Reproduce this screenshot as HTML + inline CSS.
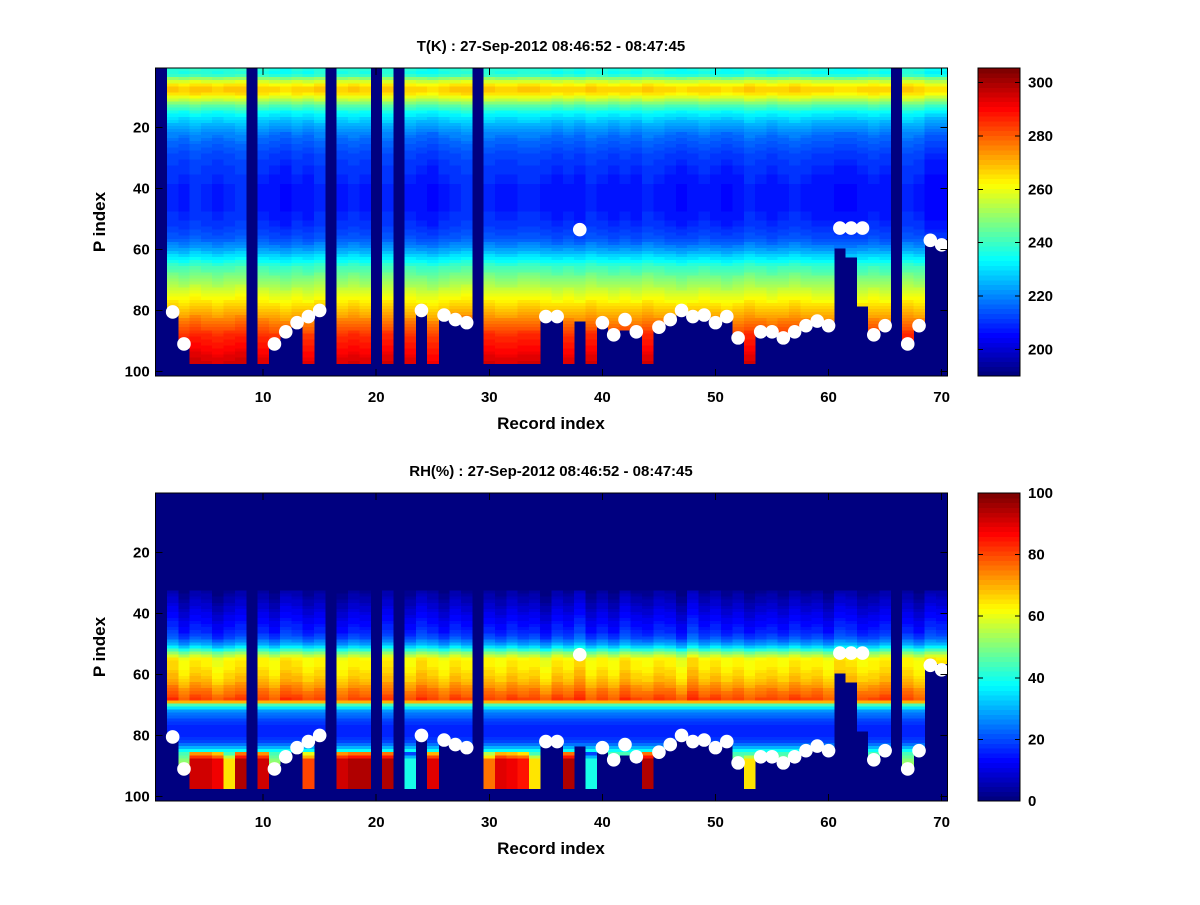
<!DOCTYPE html>
<html><head><meta charset="utf-8">
<style>
body{margin:0;background:#fff;}
svg text{font-family:"Liberation Sans",Arial,sans-serif;font-weight:bold;fill:#000;}
</style></head>
<body>
<svg id="fig" width="1200" height="900" viewBox="0 0 1200 900" xmlns="http://www.w3.org/2000/svg" shape-rendering="crispEdges">
<rect x="0" y="0" width="1200" height="900" fill="#fff"/>
<g id="top"></g>
<g id="bot"></g>
</svg>
<script>
// ---- data ----
const records = 70;
const rowsMax = 97;
// base temperature profile by P index (rows 1..97), K
const tProfile = [236,235,238,248,256,262,266,266,263,258,253,247,242,238,234,231,228,
226,224,222,220,218,217,216,215,214,213,212,211,211,210,210,209,209,209,
208,208,208,207,207,207,207,207,207,207,207,207,208,208,208,209,209,210,211,212,
213,215,217,219,222,225,228,231,234,237,240,242,244,246,248,250,252,254,256,258,
260,262,264,266,268,270,272,274,276,278,280,282,284,285,286,287,288,289,290,291,292,293];
// per-record temperature offsets
const tOff = [0,2,1,3,2,1,2,3,0,1,0,-1,1,0,2,0,1,2,1,0,2,0,1,0,-1,1,2,3,0,2,1,1,2,2,1,0,1,0,2,
1,0,1,0,2,1,0,-1,0,1,0,-1,0,2,1,0,1,2,1,0,0,-1,-1,0,1,0,0,2,1,-2,-2];
// base relative humidity profile (rows 1..97), %
const rhProfile = [0,0,0,0,0,0,0,0,0,0,0,0,0,0,0,0,0,0,0,0,0,0,0,0,0,0,0,0,0,0,0,0,
3,4,5,6,7,8,9,10,11,12,13,14,15,16,18,20,24,28,34,42,50,56,
62,63,63,64,65,66,67,68,70,72,74,76,78,80,70,45,35,
28,24,22,20,18,17,16,16,17,18,20,24,30,38,
44,48,50,52,52,52,52,52,52,52,52,52];
const rhOff = [0,3,-2,2,1,-3,0,2,0,1,-2,3,2,-1,1,0,-2,1,0,0,2,0,-1,3,1,-2,2,0,0,1,-1,2,0,1,-3,2,
0,4,-2,1,-2,3,0,-1,2,1,-3,4,0,2,-1,1,-2,0,1,-1,2,0,1,-2,3,2,-1,0,2,0,1,-2,3,2];
// bottom-layer humidity for records reaching the surface
const rhBot = {4:92,5:92,6:88,7:65,8:95,10:92,14:80,17:92,18:95,19:95,21:95,23:40,25:90,
30:75,31:90,32:88,33:85,34:65,37:95,39:40,44:95,53:65};
// last valid row per record (0 = missing record)
const endRow = [0,79,89,97,97,97,97,97,0,97,89,85,82,97,79,0,97,97,97,0,97,0,97,79,97,80,82,83,0,
97,97,97,97,97,81,81,97,83,97,85,87,86,86,97,85,82,80,82,81,84,82,88,97,87,87,89,87,85,83,85,
59,62,78,87,85,0,90,85,56,56];
// surface marker (P index) per record
const dots = [null,80.5,91,null,null,null,null,null,null,null,91,87,84,82,80,null,null,null,null,null,
null,null,null,80,null,81.5,83,84,null,null,null,null,null,null,82,82,null,53.5,null,84,88,83,87,null,
85.5,83,80,82,81.5,84,82,89,null,87,87,89,87,85,83.5,85,53,53,53,88,85,null,91,85,57,58.5];
const xTicks = [10,20,30,40,50,60,70];
const yTicks = [20,40,60,80,100];
const tCbTicks = [200,220,240,260,280,300];
const rhCbTicks = [0,20,40,60,80,100];

// ---- helpers ----
const NS="http://www.w3.org/2000/svg";
function jet(v,lo,hi){
  let idx=Math.floor((v-lo)/(hi-lo)*64); idx=Math.max(0,Math.min(63,idx));
  const t=idx/63, c=x=>Math.round(255*Math.max(0,Math.min(1,x)));
  return `rgb(${c(Math.min(4*t-1.5,-4*t+4.5))},${c(Math.min(4*t-0.5,-4*t+3.5))},${c(Math.min(4*t+0.5,-4*t+2.5))})`;
}
function mk(tag,attrs,parent){const e=document.createElementNS(NS,tag);for(const k in attrs)e.setAttribute(k,attrs[k]);parent.appendChild(e);return e;}

function panel(g, top, title, valFn, lo, hi, cbTicks){
  const L=155.7, R=947.3, T=top, B=top+308;
  const sx=r=>L+(r-0.5)*(R-L)/records;
  const sy=p=>T+(p-0.5)*(B-T)/101;
  const bg=mk('rect',{x:L,y:T,width:R-L,height:B-T,fill:jet(lo,lo,hi)},g);
  
  
  const cells=mk('g',{},g);
  
  
  for(let c=1;c<=records;c++){
    const e=endRow[c-1];
    for(let r=1;r<=e;r++){
      const v=valFn(c,r);
      const rc=mk('rect',{x:sx(c-0.5).toFixed(2),y:sy(r-0.5).toFixed(2),width:(sx(c+0.5)-sx(c-0.5)+0.4).toFixed(2),height:(sy(r+0.5)-sy(r-0.5)+0.4).toFixed(2),fill:jet(v,lo,hi)},cells);
      
      
    }
  }
  const dg=mk('g',{},g);
  
  
  dots.forEach((p,i)=>{ if(p==null)return;
    const ci=mk('circle',{cx:sx(i+1),cy:sy(p),r:6.8,fill:'#fff','shape-rendering':'auto'},dg);
    
    
  });
  const fr=mk('rect',{x:L,y:T,width:R-L,height:B-T,fill:'none',stroke:'#000','stroke-width':1},g);
  
  
  xTicks.forEach(v=>{
    const x=sx(v);
    mk('line',{x1:x,y1:B,x2:x,y2:B-7,stroke:'#000'},g);
    mk('line',{x1:x,y1:T,x2:x,y2:T+7,stroke:'#000'},g);
    const t=mk('text',{x:x,y:B+26,'text-anchor':'middle','font-size':15},g);t.textContent=v;
    
    
  });
  yTicks.forEach(v=>{
    const y=sy(v);
    mk('line',{x1:L,y1:y,x2:L+7,y2:y,stroke:'#000'},g);
    mk('line',{x1:R,y1:y,x2:R-7,y2:y,stroke:'#000'},g);
    const t=mk('text',{x:L-6,y:y+5,'text-anchor':'end','font-size':15},g);t.textContent=v;
    
    
  });
  const tt=mk('text',{x:551,y:T-17,'text-anchor':'middle','font-size':15},g);tt.textContent=title;
  
  
  const xl=mk('text',{x:551,y:B+53,'text-anchor':'middle','font-size':17},g);xl.textContent='Record index';
  
  
  const yl=mk('text',{x:0,y:0,'text-anchor':'middle','font-size':17,transform:`translate(105,${(T+B)/2}) rotate(-90)`},g);yl.textContent='P index';
  
  
  const cb=mk('g',{},g);
  
  
  const CL=978, CR=1020, h=(B-T)/64;
  for(let i=0;i<64;i++){
    mk('rect',{x:CL,y:(B-(i+1)*h).toFixed(2),width:CR-CL,height:(h+0.5).toFixed(2),fill:jet(lo+(i+0.5)*(hi-lo)/64,lo,hi)},cb);
  }
  mk('rect',{x:CL,y:T,width:CR-CL,height:B-T,fill:'none',stroke:'#000'},cb);
  cbTicks.forEach(v=>{
    const y=B-(v-lo)/(hi-lo)*(B-T);
    mk('line',{x1:CR,y1:y,x2:CR-5,y2:y,stroke:'#000'},cb);
    mk('line',{x1:CL,y1:y,x2:CL+5,y2:y,stroke:'#000'},cb);
    const t=mk('text',{x:CR+8,y:y+5,'font-size':15},cb);t.textContent=v;
    
    
  });
}
panel(document.getElementById('top'),68,'T(K) : 27-Sep-2012 08:46:52 - 08:47:45',
  (c,r)=>tProfile[r-1]+tOff[c-1],190,305.5,tCbTicks);
panel(document.getElementById('bot'),493,'RH(%) : 27-Sep-2012 08:46:52 - 08:47:45',
  (c,r)=>{
    let v=rhProfile[r-1];
    if(v>0 && r<=68) v+=rhOff[c-1];
    if(r>=86 && rhBot[c]!=null) v=rhBot[c]-(r<88?(88-r)*10:0);
    return Math.max(0,v);
  },0,100,rhCbTicks);
</script>
</body></html>
